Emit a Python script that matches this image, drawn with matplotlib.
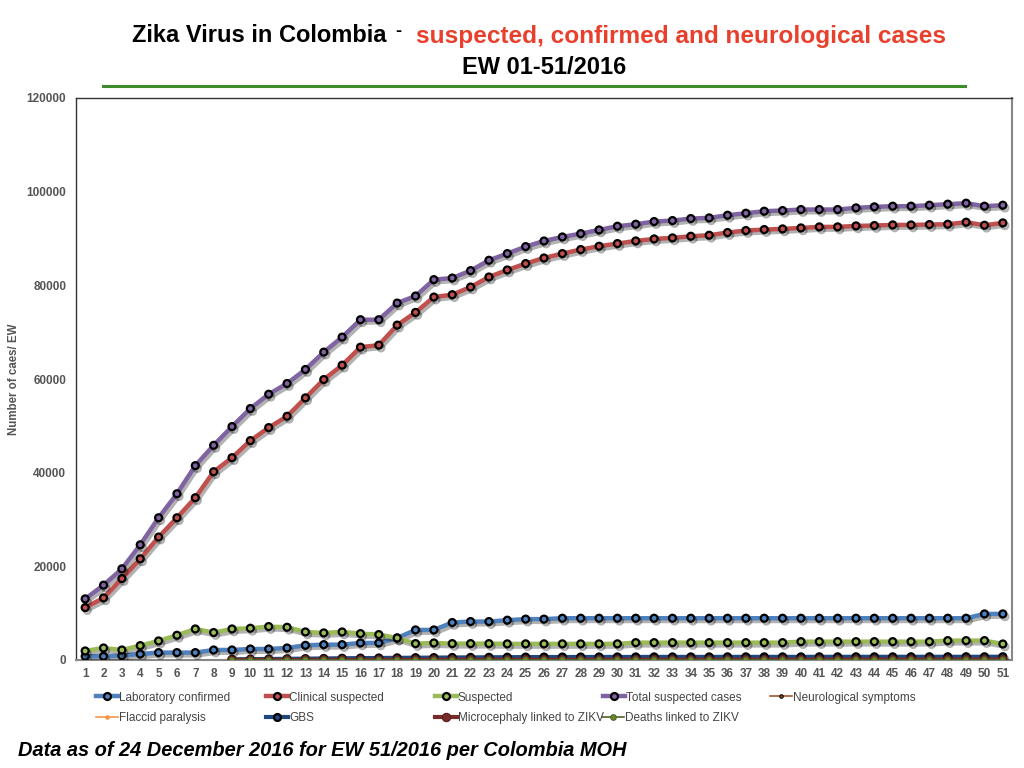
import numpy as np
import matplotlib
matplotlib.use("Agg")
import matplotlib.pyplot as plt
import matplotlib.patheffects as pe
from matplotlib.lines import Line2D

weeks = list(range(1, 52))

lab_confirmed = [790, 790, 940, 1280, 1580, 1580, 1580, 2140, 2140, 2350, 2350, 2570, 3140, 3280,
                 3280, 3640, 3640, 4700, 6420, 6420, 8000, 8210, 8210, 8500, 8730, 8730] + [8920] * 23 + [9840, 9840]
clinical_suspected = [11190, 13260, 17390, 21600, 26250, 30370, 34650, 40200, 43200, 46840, 49620,
                      52040, 55970, 59890, 62950, 66800, 67230, 71510, 74220, 77500, 78000, 79640,
                      81780, 83280, 84640, 85840, 86780, 87640, 88350, 88920, 89480, 89910, 90130,
                      90480, 90700, 91270, 91700, 91910, 92050, 92260, 92480, 92480, 92690, 92770,
                      92900, 92900, 92980, 93050, 93480, 92830, 93330]
suspected = [1930, 2570, 2140, 3070, 4070, 5280, 6630, 5860, 6630, 6780, 7140, 6990, 5990, 5780,
             5990, 5640, 5430, 4700, 3500, 3640, 3500, 3500, 3500] + [3450] * 7 + [3710] * 9 + [3920] * 8 + [4140] * 3 + [3420]
total_suspected = [13050, 15980, 19470, 24600, 30370, 35500, 41500, 45840, 49840, 53690, 56750,
                   59040, 62030, 65740, 68940, 72660, 72660, 76210, 77720, 81220, 81560, 83140,
                   85350, 86780, 88270, 89470, 90330, 91040, 91830, 92620, 93050, 93620, 93830,
                   94260, 94400, 94970, 95400, 95830, 95970, 96190, 96190, 96190, 96540, 96760,
                   96900, 96900, 97110, 97330, 97540, 96900, 97110]
nan = float("nan")
neuro_symptoms = [nan] * 8 + [90, 110, 130, 150, 170, 190, 210, 230, 250, 270, 290, 300, 310, 320,
                              330, 340, 350, 350, 360, 360, 360, 370, 370, 370, 370, 380, 380, 380,
                              380, 380, 390, 390, 390, 390, 390, 390, 400, 400, 400, 400, 400, 400, 400]
flaccid_paralysis = [nan] * 8 + [20] * 43
gbs = [nan] * 8 + [150, 180, 210, 250, 290, 330, 370, 400, 430, 460, 490, 510, 540, 560, 580, 600,
                   620, 630, 640, 640, 650, 650, 650, 660, 660, 660, 660, 670, 670, 670, 670, 670,
                   680, 680, 680, 680, 680, 690, 690, 690, 690, 690, 700]
microcephaly = [nan] * 8 + [10, 12, 15, 18, 20, 22, 25, 28, 30, 32, 35, 38, 40, 42, 44, 46, 48, 50,
                            52, 54, 56, 58, 60, 62, 64, 66, 68, 70, 72, 74, 76, 78, 80, 82, 84, 86,
                            88, 90, 92, 94, 96, 98, 100]
deaths = [nan] * 8 + [5] * 13 + [20, 25, 30, 35, 40, 45] + [45] * 24

plt.rcParams['font.family'] = ['Liberation Sans', 'DejaVu Sans']

fig = plt.figure(figsize=(10.24, 7.68), dpi=100)
ax = fig.add_axes([76 / 1024, 1 - 660 / 768, (1012 - 76) / 1024, (660 - 98) / 768])

shadow = [pe.SimpleLineShadow(offset=(1.5, -2), shadow_color='black', alpha=0.3), pe.Normal()]

def draw(vals, color, label, lw, marker, ms, mfc, mec, mew, z):
    y = np.array(vals, dtype=float)
    ln, = ax.plot(weeks, y, color=color, lw=lw, marker=marker, ms=ms, mfc=mfc, mec=mec,
                  mew=mew, label=label, zorder=z, path_effects=shadow, solid_capstyle='round')
    return ln

h_lab = draw(lab_confirmed, '#4f81bd', 'Laboratory confirmed', 3.2, 'o', 5, '#4f81bd', 'black', 1.6, 5)
h_cli = draw(clinical_suspected, '#c0504d', 'Clinical suspected', 3.2, 'o', 5, '#c0504d', 'black', 1.6, 5)
h_sus = draw(suspected, '#9bbb59', 'Suspected', 3.2, 'o', 5, '#9bbb59', 'black', 1.6, 6)
h_tot = draw(total_suspected, '#8064a2', 'Total suspected cases', 3.2, 'o', 5, '#8064a2', 'black', 1.6, 6)
h_neu = draw(neuro_symptoms, '#a05a2c', 'Neurological symptoms', 1.2, 'o', 2.5, '#a05a2c', 'black', 0.8, 3)
h_fla = draw(flaccid_paralysis, '#f79646', 'Flaccid paralysis', 1.2, 'o', 2.5, '#f79646', '#f79646', 0.8, 2)
h_gbs = draw(gbs, '#1f497d', 'GBS', 3.0, 'o', 5, '#1f497d', 'black', 1.6, 4)
h_mic = draw(microcephaly, '#772c2a', 'Microcephaly linked to ZIKV', 3.0, 'o', 6, '#772c2a', '#5a1e1c', 0.8, 4.5)
h_dea = draw(deaths, '#4f6228', 'Deaths linked to ZIKV', 1.2, 'o', 4, '#6b8a2c', '#4f6228', 0.8, 4.6)

ax.set_xlim(0.5, 51.5)
ax.set_ylim(0, 120000)
ax.set_xticks(weeks)
ax.set_xticklabels([str(w) for w in weeks])
ax.set_yticks(range(0, 120001, 20000))
ax.tick_params(axis='both', length=0)
ax.tick_params(axis='x', labelsize=8.5, labelcolor='#555555', pad=6)
ax.tick_params(axis='y', labelsize=8.5, labelcolor='#555555', pad=7)
for lab in ax.get_xticklabels() + ax.get_yticklabels():
    lab.set_fontweight('bold')
for s in ['left', 'top']:
    ax.spines[s].set_color('#333333')
    ax.spines[s].set_linewidth(1.0)
for s in ['right', 'bottom']:
    ax.spines[s].set_color('#888888')
    ax.spines[s].set_linewidth(1.5)
ax.set_ylabel('Number of caes/ EW', fontsize=8.3, color='#555555', fontweight='bold')
ax.yaxis.set_label_coords((20 - 76) / 936, 0.5)

# legend entries: handle line + label text placed at fixed positions
items = [
    (h_lab, 96, 696), (h_cli, 266, 696), (h_sus, 435, 696), (h_tot, 603, 696), (h_neu, 770, 696),
    (h_fla, 96, 716.5), (h_gbs, 266, 716.5), (h_mic, 435, 716.5), (h_dea, 602, 716.5),
]
for h, x, y in items:
    yf = 1 - y / 768
    hd = Line2D([x / 1024, (x + 22) / 1024], [yf, yf], color=h.get_color(), lw=h.get_linewidth(),
                transform=fig.transFigure)
    mk = Line2D([(x + 11) / 1024], [yf], marker=h.get_marker(), ms=h.get_markersize(),
                mfc=h.get_markerfacecolor(), mec=h.get_markeredgecolor(),
                mew=h.get_markeredgewidth(), transform=fig.transFigure, lw=0)
    fig.add_artist(hd)
    fig.add_artist(mk)
    fig.text((x + 23) / 1024, yf, h.get_label(), ha='left', va='center_baseline',
             fontsize=8.5, color='#444444')

# titles
fig.text(386 / 1024, 1 - 36 / 768, 'Zika Virus in Colombia', ha='right', va='center',
         fontsize=17, fontweight='bold', color='black')
fig.text(395 / 1024, 1 - 32 / 768, '-', ha='left', va='center',
         fontsize=13, fontweight='bold', color='black')
fig.text(416 / 1024, 1 - 36 / 768, 'suspected, confirmed and neurological cases', ha='left', va='center',
         fontsize=17.6, fontweight='bold', color='#e8402d')
fig.text(544 / 1024, 1 - 68 / 768, 'EW 01-51/2016', ha='center', va='center',
         fontsize=17, fontweight='bold', color='black')
fig.add_artist(Line2D([103 / 1024, 965 / 1024], [1 - 85.5 / 768, 1 - 85.5 / 768],
                      color='#3d8b2a', lw=2.2))
fig.text(18 / 1024, 1 - 750 / 768, 'Data as of 24 December 2016 for EW 51/2016 per Colombia MOH',
         ha='left', va='center', fontsize=14.4, fontweight='bold', style='italic', color='black')

fig.savefig('out.png', dpi=100)
